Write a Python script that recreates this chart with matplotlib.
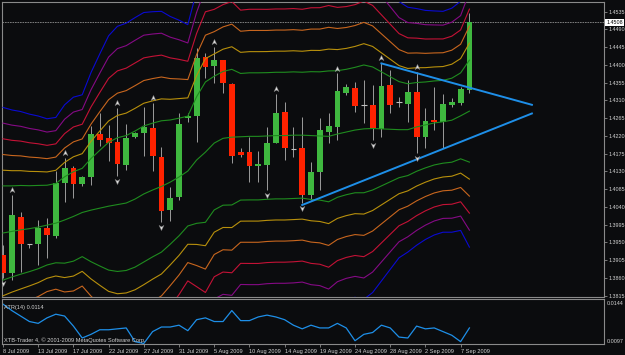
import matplotlib
matplotlib.use("Agg")
import matplotlib.pyplot as plt
import numpy as np
from matplotlib.path import Path

plt.rcParams['font.family'] = ['Liberation Sans', 'DejaVu Sans']

# daily EURUSD-like bars, 8 Jul 2009 .. 8 Sep 2009
opens = [1.3918, 1.3873, 1.4015, 1.3945, 1.3945, 1.3986, 1.3967, 1.4102, 1.4140, 1.4097,
         1.4116, 1.4224, 1.4214, 1.4205, 1.4146, 1.4218, 1.4227, 1.4239, 1.4167, 1.4032,
         1.4065, 1.4266, 1.4271, 1.4419, 1.4398, 1.4413, 1.4352, 1.4179, 1.4179, 1.4144,
         1.4146, 1.4203, 1.4282, 1.4186, 1.4189, 1.4070, 1.4129, 1.4231, 1.4243, 1.4330,
         1.4341, 1.4298, 1.4298, 1.4238, 1.4349, 1.4307, 1.4301, 1.4332, 1.4218, 1.4260,
         1.4256, 1.4298, 1.4303, 1.4337]
highs = [1.3944, 1.4070, 1.4028, 1.3947, 1.4007, 1.4012, 1.4132, 1.4164, 1.4144, 1.4119,
         1.4245, 1.4278, 1.4248, 1.4291, 1.4250, 1.4230, 1.4294, 1.4304, 1.4192, 1.4091,
         1.4278, 1.4278, 1.4443, 1.4430, 1.4446, 1.4413, 1.4354, 1.4189, 1.4218, 1.4182,
         1.4243, 1.4326, 1.4307, 1.4243, 1.4268, 1.4155, 1.4265, 1.4278, 1.4379, 1.4352,
         1.4357, 1.4362, 1.4349, 1.4405, 1.4387, 1.4320, 1.4362, 1.4382, 1.4291, 1.4345,
         1.4326, 1.4315, 1.4343, 1.4532]
lows = [1.3860, 1.3855, 1.3876, 1.3936, 1.3893, 1.3911, 1.3961, 1.4053, 1.4063, 1.4093,
        1.4096, 1.4195, 1.4157, 1.4119, 1.4134, 1.4215, 1.4169, 1.4130, 1.4002, 1.4004,
        1.4058, 1.4256, 1.4205, 1.4367, 1.4354, 1.4329, 1.4152, 1.4167, 1.4104, 1.4104,
        1.4083, 1.4201, 1.4159, 1.4167, 1.4050, 1.4058, 1.4083, 1.4202, 1.4210, 1.4324,
        1.4281, 1.4253, 1.4210, 1.4218, 1.4278, 1.4294, 1.4256, 1.4176, 1.4189, 1.4235,
        1.4189, 1.4293, 1.4298, 1.4328]
closes = [1.3873, 1.4020, 1.3945, 1.3945, 1.3986, 1.3969, 1.4100, 1.4140, 1.4097, 1.4116,
          1.4225, 1.4210, 1.4203, 1.4149, 1.4214, 1.4227, 1.4242, 1.4169, 1.4030, 1.4063,
          1.4250, 1.4271, 1.4418, 1.4396, 1.4413, 1.4354, 1.4169, 1.4172, 1.4144, 1.4149,
          1.4201, 1.4277, 1.4189, 1.4186, 1.4070, 1.4129, 1.4235, 1.4245, 1.4335, 1.4343,
          1.4296, 1.4298, 1.4241, 1.4347, 1.4298, 1.4307, 1.4331, 1.4218, 1.4259, 1.4256,
          1.4301, 1.4305, 1.4338, 1.4508]

# band indicator: centre line and spacing between the levels
band_mid = [1.3974, 1.3978, 1.3982, 1.3985, 1.3989, 1.3994, 1.3999, 1.4007, 1.4016, 1.4026,
            1.4032, 1.4037, 1.4042, 1.4046, 1.4050, 1.4060, 1.4073, 1.4083, 1.4092, 1.4103,
            1.4116, 1.4131, 1.4159, 1.4179, 1.4202, 1.4214, 1.4217, 1.4218, 1.4219, 1.4219,
            1.4220, 1.4221, 1.4221, 1.4222, 1.4222, 1.4221, 1.4220, 1.4219, 1.4225, 1.4230,
            1.4235, 1.4238, 1.4239, 1.4238, 1.4237, 1.4236, 1.4236, 1.4243, 1.4248, 1.4253,
            1.4256, 1.4260, 1.4271, 1.4283]
band_step = [0.00398, 0.00385, 0.00375, 0.00363, 0.00352, 0.00337, 0.00335, 0.00365, 0.00378, 0.00373,
             0.00436, 0.00489, 0.00540, 0.00565, 0.00570, 0.00575, 0.00575, 0.00565, 0.00555, 0.00525,
             0.00497, 0.00464, 0.00535, 0.00593, 0.00565, 0.00565, 0.00573, 0.00535, 0.00537, 0.00537,
             0.00535, 0.00535, 0.00535, 0.00535, 0.00532, 0.00540, 0.00542, 0.00553, 0.00535, 0.00530,
             0.00530, 0.00540, 0.00520, 0.00482, 0.00444, 0.00406, 0.00388, 0.00375, 0.00363, 0.00355,
             0.00350, 0.00355, 0.00363, 0.00431]
band_levels = [3, 4, 5, 6, 7, 8]
band_colors = ['#1f8c1f', '#b8900c', '#c8661e', '#c41236', '#850a85', '#0a0ad2']

atr = [0.0140, 0.0133, 0.0127, 0.0121, 0.0119, 0.0125, 0.0129, 0.0127, 0.0116, 0.0103,
       0.0107, 0.0112, 0.0112, 0.0113, 0.0114, 0.0099, 0.0097, 0.0110, 0.0115, 0.0115,
       0.0117, 0.0111, 0.0123, 0.0125, 0.0121, 0.0121, 0.0133, 0.0122, 0.0122, 0.0126,
       0.0128, 0.0126, 0.0123, 0.0117, 0.0113, 0.0117, 0.0114, 0.0114, 0.0119, 0.0114,
       0.0100, 0.0107, 0.0109, 0.0117, 0.0114, 0.0104, 0.0103, 0.0116, 0.0113, 0.0114,
       0.0110, 0.0106, 0.0099, 0.0114]

up_fractals = [1, 7, 13, 17, 24, 31, 38, 43, 47]
down_fractals = [0, 13, 18, 30, 34, 42, 47]

trend_up_x = [43, 60.1]
trend_up_y = [1.4404, 1.4299]
trend_dn_x = [34, 60.1]
trend_dn_y = [1.4045, 1.4277]

last_price = 1.4508

date_pos = [0, 4, 8, 12, 16, 20, 24, 28, 32, 36, 40, 44, 48, 52]
date_labels = ['8 Jul 2009', '13 Jul 2009', '17 Jul 2009', '22 Jul 2009', '27 Jul 2009',
               '31 Jul 2009', '5 Aug 2009', '10 Aug 2009', '14 Aug 2009', '19 Aug 2009',
               '24 Aug 2009', '28 Aug 2009', '2 Sep 2009', '7 Sep 2009']
price_ticks = [1.4535, 1.4490, 1.4445, 1.4400, 1.4355, 1.4310, 1.4265, 1.4220, 1.4175,
               1.4130, 1.4085, 1.4040, 1.3995, 1.3950, 1.3905, 1.3860, 1.3815]

bg = '#0b0c0e'
frame = '#8a8a8a'
txt = '#d2d2d2'
bull = '#3fb83f'
bear = '#ff2200'
blue = '#1e8fe8'
fs = 3.9

fig = plt.figure(figsize=(6.25, 3.55), dpi=100, facecolor=bg)
ax = fig.add_axes([0.0027, 0.162, 0.9642, 0.8332], facecolor=bg)
ax2 = fig.add_axes([0.0027, 0.0296, 0.9642, 0.1268], facecolor=bg)

x = np.arange(len(opens))
o = np.array(opens)
h = np.array(highs)
l = np.array(lows)
c = np.array(closes)
mid = np.array(band_mid)
step = np.array(band_step)

# bands
ax.plot(x, mid, color=band_colors[0], lw=0.8, zorder=4)
for k, col in zip(band_levels, band_colors):
    ax.plot(x, mid + k * step, color=col, lw=0.8, zorder=4)
    ax.plot(x, mid - k * step, color=col, lw=0.8, zorder=4)

# candles
ax.vlines(x, l, h, color='#9c9c9c', lw=0.7, zorder=2)
up = c > o + 0.0002
dn = c < o - 0.0002
flat = ~(up | dn)
ax.bar(x[up], c[up] - o[up], bottom=o[up], width=0.66, color=bull, zorder=3)
ax.bar(x[dn], o[dn] - c[dn], bottom=c[dn], width=0.66, color=bear, zorder=3)
ax.hlines(c[flat], x[flat] - 0.33, x[flat] + 0.33, color='#c0c0c0', lw=0.8, zorder=3)

# fractal arrows
arrow_up = Path([(0, 1), (0.8, -0.7), (0, -0.2), (-0.8, -0.7), (0, 1)],
                [Path.MOVETO, Path.LINETO, Path.LINETO, Path.LINETO, Path.CLOSEPOLY])
arrow_dn = Path([(0, -1), (0.8, 0.7), (0, 0.2), (-0.8, 0.7), (0, -1)],
                [Path.MOVETO, Path.LINETO, Path.LINETO, Path.LINETO, Path.CLOSEPOLY])
ax.scatter(up_fractals, h[up_fractals] + 0.0012, marker=arrow_up, s=20,
           color='#dcdcdc', edgecolor='#707070', linewidths=0.3, zorder=6)
ax.scatter(down_fractals, l[down_fractals] - 0.0012, marker=arrow_dn, s=20,
           color='#dcdcdc', edgecolor='#707070', linewidths=0.3, zorder=6)

# triangle trend lines
ax.plot(trend_up_x, trend_up_y, color=blue, lw=1.4, zorder=5)
ax.plot(trend_dn_x, trend_dn_y, color=blue, lw=1.4, zorder=5)

# current price line
ax.axhline(last_price, color='#8c8c8c', lw=0.6, ls=(0, (2, 1)), zorder=1)
ax.text(1.003, last_price, '%.4f' % last_price, transform=ax.get_yaxis_transform(),
        fontsize=fs, color='black', ha='left', va='center',
        bbox=dict(boxstyle='square,pad=0.15', fc='white', ec='none'))

ax.set_xlim(-0.15, 68.33)
ax.set_ylim(1.38105, 1.45604)
ax.set_xticks([])
ax.yaxis.tick_right()
ax.set_yticks(price_ticks)
ax.set_yticklabels(['%.4f' % p for p in price_ticks])
ax.tick_params(axis='y', length=2.0, width=0.6, pad=0.8, labelsize=fs,
               colors=frame, labelcolor=txt)

# ATR sub window
ax2.plot(x, atr, color=blue, lw=0.9)
ax2.set_xlim(-0.15, 68.33)
ax2.set_ylim(0.00959, 0.01451)
ax2.set_yticks([])
ax2.set_xticks(date_pos)
ax2.set_xticklabels(date_labels)
for lbl in ax2.get_xticklabels():
    lbl.set_ha('left')
ax2.tick_params(axis='x', length=2.0, width=0.6, pad=1.0, labelsize=4.1,
                colors=frame, labelcolor=txt)
ax2.text(1.004, 0.9, '0.0144', transform=ax2.transAxes, fontsize=fs,
         color=txt, ha='left', va='center')
ax2.text(1.004, 0.06, '0.0097', transform=ax2.transAxes, fontsize=fs,
         color=txt, ha='left', va='center')
ax2.text(0.004, 0.83, 'ATR(14) 0.0114', transform=ax2.transAxes, fontsize=4.1,
         color=txt, ha='left', va='center')
ax2.text(0.004, 0.09, 'XTB-Trader 4, \u00a9 2001-2009 MetaQuotes Software Corp.',
         transform=ax2.transAxes, fontsize=4.1, color=txt, ha='left', va='center')

for a in (ax, ax2):
    for s in a.spines.values():
        s.set_color(frame)
        s.set_linewidth(0.8)

fig.savefig('out.png', dpi=100, facecolor=bg)
